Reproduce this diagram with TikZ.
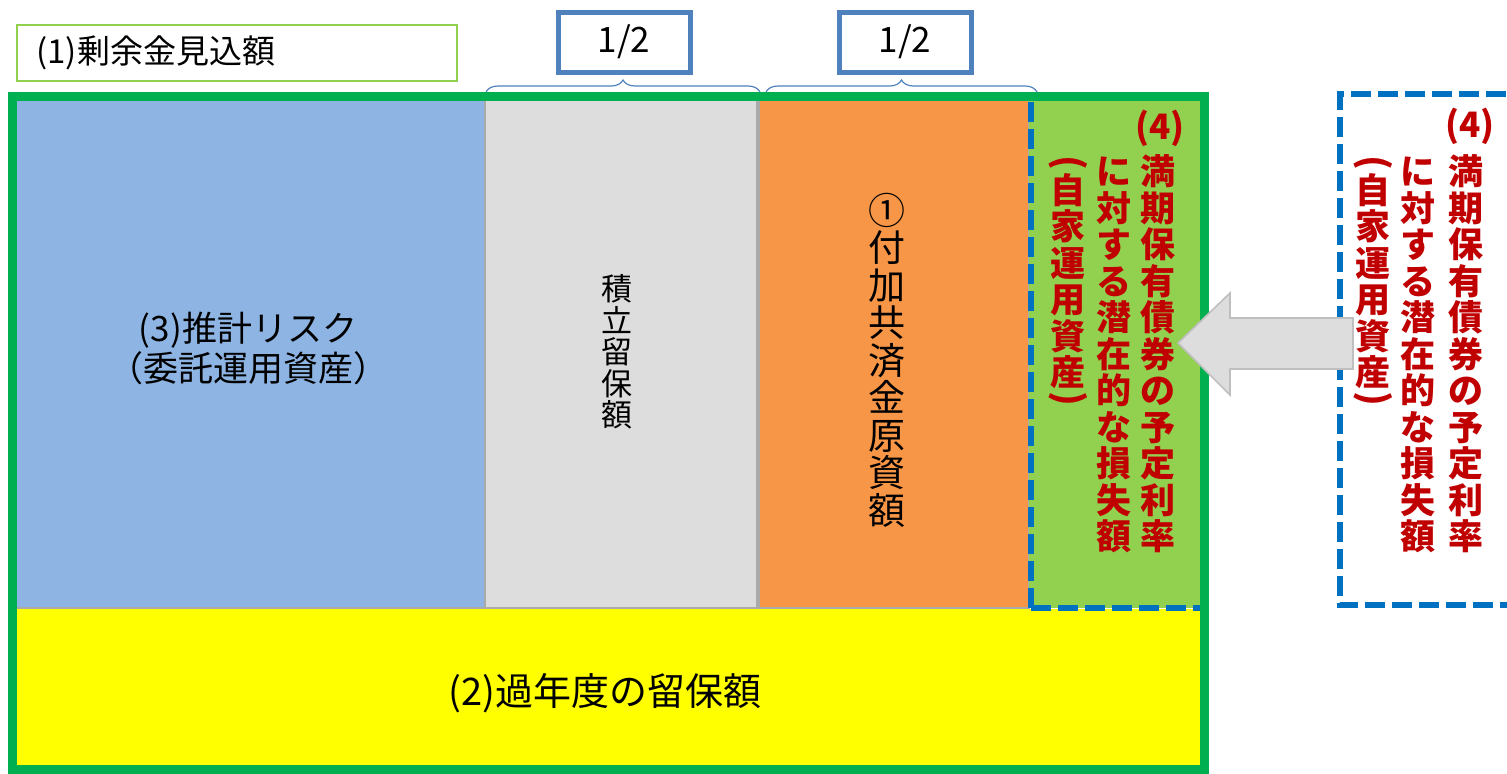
\documentclass[tikz,border=0pt]{standalone}
\usepackage{fontspec}
\usepackage{graphicx}
\setmainfont{Noto Sans CJK JP}
\newfontfamily\jp{Noto Sans CJK JP}
\usetikzlibrary{decorations.pathreplacing}
\definecolor{frameGreen}{HTML}{00B050}
\definecolor{riskBlue}{HTML}{8EB4E3}
\definecolor{resGray}{HTML}{DDDDDD}
\definecolor{edgeGray}{HTML}{AAAAAA}
\definecolor{addOrange}{HTML}{F79646}
\definecolor{lossGreen}{HTML}{92D050}
\definecolor{dashBlue}{HTML}{0070C0}
\definecolor{halfBlue}{HTML}{4F81BD}
\definecolor{lossRed}{HTML}{C00000}
\definecolor{arrowEdge}{HTML}{BFBFBF}
\definecolor{labelGreen}{HTML}{92D050}
\definecolor{priorYellow}{HTML}{FFFF00}
\begin{document}
\begin{tikzpicture}[x=0.5pt,y=-0.5pt,
  halfbox/.style={draw=halfBlue, line width=2.5pt, fill=white, minimum width=66pt, minimum height=30pt, inner sep=0pt, font=\jp\fontsize{17.5}{17.5}\selectfont},
  bracestyle/.style={draw=halfBlue, line width=0.6pt, decorate, decoration={brace, amplitude=6pt}},
  bluedash/.style={draw=dashBlue, line width=2.6pt, dash pattern=on 10pt off 3.5pt},
  redtxt/.style={text=lossRed, inner sep=0pt, font=\jp\bfseries\fontsize{17.5}{18.25}\selectfont, align=center},
  redparen/.style={text=lossRed, inner sep=0pt, font=\jp\bfseries\fontsize{18.5}{18.5}\selectfont, rotate=-90},
  blacktxt/.style={text=black, inner sep=0pt, align=center}
]
\useasboundingbox (0,0) rectangle (1507,773);
\clip (0,0) rectangle (1507,773);

% label box (1)
\node[draw=labelGreen, line width=1pt, minimum width=220pt, minimum height=28pt, inner sep=0pt] (surplus) at (236.5,52.5) {};
\node[blacktxt, anchor=west, font=\jp\fontsize{16.5}{16.5}\selectfont] (surplustxt) at (36,53) {(1)剰余金見込額};

% column blocks
\filldraw[fill=riskBlue, draw=edgeGray, line width=1.2pt] (15,97) rectangle (485,608);
\filldraw[fill=resGray, draw=edgeGray, line width=1.2pt] (485,97) rectangle (757,608);
\filldraw[fill=addOrange, draw=edgeGray, line width=0.8pt] (759,97) rectangle (1029,608);
\fill[lossGreen] (1029,97) rectangle (1202,608);
\fill[priorYellow] (15,609) rectangle (1202,767);
\draw[bluedash] (1031,608) -- (1031,96) -- (1202,96);
\draw[bluedash] (1031,608) -- (1202,608);

% outer frame
\draw[frameGreen, line width=4.5pt] (12,96) rectangle (1204,769);

% texts in blocks
\node[blacktxt, font=\jp\fontsize{17.5}{20}\selectfont] (risk) at (248,348) {(3)推計リスク\\（委託運用資産）};
\node[blacktxt, font=\jp\fontsize{15.5}{15.7}\selectfont] (reserve) at (617,352) {積\\立\\留\\保\\額};
\node[blacktxt, font=\jp\fontsize{18.5}{18.75}\selectfont] (additional) at (887,360) {①\\付\\加\\共\\済\\金\\原\\資\\額};
\node[blacktxt, font=\jp\fontsize{19}{19}\selectfont] (prior) at (605,693) {(2)過年度の留保額};

% red text in green column
\node[redtxt] (lossA4) at (1160,128) {(4)};
\node[redtxt] (lossA1) at (1158,354) {満\\期\\保\\有\\債\\券\\の\\予\\定\\利\\率};
\node[redtxt] (lossA2) at (1114,355) {に\\対\\す\\る\\潜\\在\\的\\な\\損\\失\\額};
\node[redtxt] (lossA3) at (1068,281) {自\\家\\運\\用\\資\\産};
\node[redparen] (lossA3o) at (1068,163) {(};
\node[redparen] (lossA3c) at (1068,399) {)};

% right dashed box
\draw[bluedash] (1560,94) -- (1340,94) -- (1340,605) -- (1560,605);
\node[redtxt] (lossB4) at (1470,126) {(4)};
\node[redtxt] (lossB1) at (1466,354) {満\\期\\保\\有\\債\\券\\の\\予\\定\\利\\率};
\node[redtxt] (lossB2) at (1418,355) {に\\対\\す\\る\\潜\\在\\的\\な\\損\\失\\額};
\node[redtxt] (lossB3) at (1373,281) {自\\家\\運\\用\\資\\産};
\node[redparen] (lossB3o) at (1373,163) {(};
\node[redparen] (lossB3c) at (1373,399) {)};

% block arrow
\filldraw[fill=resGray, draw=arrowEdge, line width=0.8pt]
  (1178,343) -- (1230,293) -- (1230,318) -- (1353,318) -- (1353,369) -- (1230,369) -- (1230,395) -- cycle;

% halves
\node[halfbox] (halfA) at (624,42) {1/2};
\node[halfbox] (halfB) at (905,42) {1/2};
\draw[bracestyle] (486,92) -- (760,92);
\draw[bracestyle] (766,92) -- (1037,92);
\end{tikzpicture}
\end{document}
